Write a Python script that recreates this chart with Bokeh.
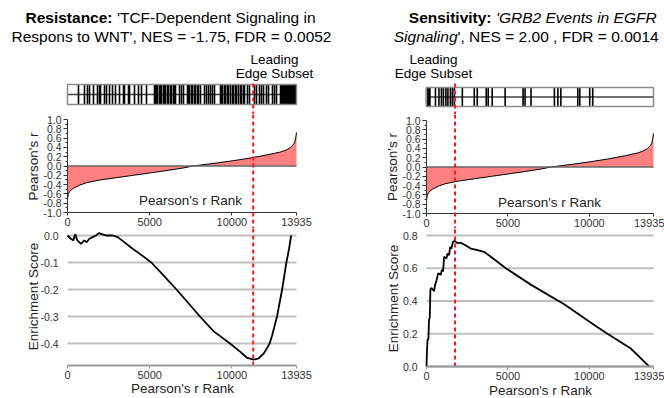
import math
from bokeh.plotting import figure
from bokeh.layouts import row, column
from bokeh.models import Range1d, FixedTicker, PrintfTickFormatter, Span, Label, LinearAxis
from bokeh.embed import file_html
from bokeh.resources import INLINE

FONT = "Liberation Sans"

# ---------------- data ----------------
rank_max = 13935
rank_ticks = [0, 5000, 10000, 13935]
pr_ticks = [-1.0, -0.8, -0.6, -0.4, -0.2, 0.0, 0.2, 0.4, 0.6, 0.8, 1.0]
pr_minor = [-0.9, -0.7, -0.5, -0.3, -0.1, 0.1, 0.3, 0.5, 0.7, 0.9]
esL_ticks = [-0.4, -0.3, -0.2, -0.1, 0.0]
esR_ticks = [0.0, 0.2, 0.4, 0.6, 0.8]

# ranked Pearson's r curve
pr_rank = [0, 40, 120, 350, 750, 1150, 2000, 3000, 4000, 5000, 6000, 7000, 7650,
           8300, 9100, 10100, 11100, 12150, 12950, 13350, 13570, 13720, 13810, 13880, 13935]
pr_r = [-0.72, -0.62, -0.55, -0.48, -0.41, -0.36, -0.30, -0.25, -0.20, -0.15, -0.10, -0.045, 0.0,
        0.03, 0.065, 0.115, 0.17, 0.24, 0.30, 0.35, 0.40, 0.45, 0.50, 0.58, 0.72]

# gene-set hit positions (rank)
hits_L = [669, 1034, 1217, 1339, 1582, 1826, 1947, 2008, 2251, 2373, 2556, 2738, 2921, 3164,
          3408, 3468, 3712, 3773, 4077, 4320, 4503, 4807,
          5294, 5355, 5416, 5477, 5598, 5659, 5720, 5842, 5902, 5963, 6085, 6146, 6268, 6328,
          6450, 6511, 6572, 6815, 6937, 7059,
          7302, 7363, 7424, 7545, 7606, 7728, 7789, 7911, 7971, 8093,
          8336, 8458, 8580, 8702, 8823, 8945,
          9310, 9371, 9432, 9553, 9614, 9736, 9797, 9919, 10040, 10101, 10223, 10284, 10405,
          10527, 10588, 10710, 10770, 10953, 11075, 11379, 11501, 11683, 11805, 11927,
          12109, 12231, 12474, 12596, 12718,
          12961, 13022, 13083, 13144, 13204, 13265, 13326, 13387, 13448, 13509, 13570, 13630,
          13691, 13752, 13813, 13874]
hits_R = [5, 40, 90, 150, 210, 550, 764, 917, 1039, 1191, 1314, 1466, 1589, 1711, 2200,
          2933, 3116, 3666, 3788, 4033, 4827, 5927, 6049, 6416, 7851, 8065, 8249, 9287,
          9409, 10020, 10204]

# running enrichment scores
esL_rank = [0, 200, 350, 470, 600, 820, 1020, 1160, 1330, 1530, 1730, 1900, 2140, 2350, 2750,
            3060, 3570, 3980, 4400, 5100, 5800, 6630, 7350, 8060, 8900, 9890, 10500, 10900,
            11320, 11630, 11940, 12140, 12300, 12450, 12750, 13060, 13320, 13480, 13610]
esL = [0.0, -0.012, -0.018, 0.005, -0.018, -0.031, -0.018, -0.025, -0.012, -0.006, 0.0, 0.009,
       0.004, 0.0, 0.0, -0.006, -0.03, -0.05, -0.068, -0.1, -0.145, -0.2, -0.25, -0.3, -0.355,
       -0.4, -0.43, -0.452, -0.46, -0.455, -0.437, -0.418, -0.40, -0.37, -0.30, -0.20, -0.10,
       -0.05, 0.0]
esR_rank = [0, 30, 60, 120, 150, 200, 240, 300, 470, 530, 600, 720, 880, 940, 1020, 1080, 1230,
            1290, 1390, 1450, 1530, 1620, 1740, 1860, 2110, 2310, 2720, 3130, 3540, 3950, 4870,
            6400, 8450, 10500, 11110, 12540, 13570, 13680]
esR = [0.0, 0.10, 0.16, 0.17, 0.28, 0.30, 0.47, 0.48, 0.46, 0.50, 0.52, 0.57, 0.56, 0.59, 0.58,
       0.67, 0.66, 0.69, 0.68, 0.73, 0.72, 0.76, 0.768, 0.755, 0.755, 0.745, 0.72, 0.71, 0.70,
       0.67, 0.60, 0.50, 0.38, 0.24, 0.20, 0.11, 0.01, 0.0]

leading_edge_L = 11300
leading_edge_R = 1750

RED = "#FF1A1A"
TXT = "#222222"
W = 332
BASE_SHIFT = 5  # alphabetic-baseline labels render slightly low; lift them


def add_label(p, text, x, y, size, style="normal", align="left", units="screen",
              baseline="alphabetic", angle=0.0, color="black"):
    p.add_layout(Label(x=x, y=y, x_units=units, y_units=units, text=text,
                       text_font=FONT, text_font_size=size, text_font_style=style,
                       text_align=align, text_baseline=baseline, text_color=color,
                       angle=angle))


def style_ticks(ax, size="11px", color="#333333"):
    ax.major_label_text_font = FONT
    ax.major_label_text_font_size = size
    ax.major_label_text_color = color


def yrange(top, height, v1, p1, v2, p2):
    """y range for a frame [top, top+height] in which value v1 sits on pixel row p1
    and value v2 on pixel row p2."""
    ppu = (p2 - p1) / (v1 - v2)
    end = v1 + (p1 - top) / ppu
    return end - height / ppu, end


def fig(height, xr, yr):
    p = figure(width=W, height=height, x_range=Range1d(*xr), y_range=Range1d(*yr),
               x_axis_location=None, y_axis_location=None, toolbar_location=None,
               output_backend="svg", min_border=0, outline_line_color=None)
    p.xgrid.visible = False
    p.ygrid.visible = False
    return p


def panel(cfg):
    ml, mr, gx0 = cfg["ml"], cfg["mr"], cfg["gx0"]
    le = cfg["le"]
    hits = cfg["hits"]
    scale = rank_max / (W - ml - mr)          # ranks per pixel
    xr = (-ml * scale, (W - ml) * scale)      # whole-canvas x range

    # ---- titles + barcode ----
    b0, b1 = cfg["box_px"]
    yA = yrange(0, 114, 1.0, b0, 0.0, b1)
    pa = fig(114, xr, yA)
    pa.quad(left=0, right=rank_max, bottom=0, top=1, fill_color="white", line_color=None)
    pa.segment(x0=0, y0=0.5, x1=rank_max, y1=0.5, line_color="#444444", line_width=1.3)
    pa.segment(x0=hits, y0=[0] * len(hits), x1=hits, y1=[1] * len(hits),
               line_color="black", line_width=1.6)
    pa.quad(left=0, right=rank_max, bottom=0, top=1, fill_color=None,
            line_color="#8c8c8c", line_width=1.5)
    red_top = 1.0 + (b0 - cfg["red_top_px"]) / (b1 - b0)
    pa.segment(x0=le, y0=red_top, x1=le, y1=yA[0],
               line_color=RED, line_width=2, line_dash="4 3")
    for (text, gx, gy, size, fstyle, align) in cfg["texts"]:
        add_label(pa, text, gx - gx0, 114 - gy + BASE_SHIFT, size, fstyle, align)

    # ---- ranked Pearson's r ----
    p1, p2 = cfg["pr_px"]
    pb = fig(114, xr, yrange(114, 114, 1.0, p1, -1.0, p2))
    pb.varea(x=pr_rank, y1=[0] * len(pr_rank), y2=pr_r, fill_color="#FF8080")
    pb.line(pr_rank, pr_r, line_color="black", line_width=1)
    pb.segment(x0=0, y0=0, x1=rank_max, y1=0, line_color="#666666", line_width=1.5)
    ya = LinearAxis(fixed_location=0, ticker=FixedTicker(ticks=pr_ticks, minor_ticks=pr_minor),
                    formatter=PrintfTickFormatter(format="%.1f"), bounds=(-1, 1))
    ya.axis_line_color = "#333333"
    ya.major_tick_line_color = "#333333"
    ya.minor_tick_line_color = "#333333"
    ya.major_tick_out = 4
    ya.major_tick_in = 0
    ya.minor_tick_out = 2
    ya.minor_tick_in = 0
    ya.major_label_standoff = 2
    style_ticks(ya, "10.5px")
    pb.add_layout(ya, "left")
    xa = LinearAxis(fixed_location=-1.0, ticker=FixedTicker(ticks=rank_ticks),
                    formatter=PrintfTickFormatter(format="%d"), bounds=(0, rank_max))
    xa.axis_line_color = "#333333"
    xa.major_tick_line_color = "#333333"
    xa.major_tick_out = 3
    xa.major_tick_in = 0
    xa.minor_tick_line_color = None
    xa.major_label_standoff = 2
    style_ticks(xa)
    pb.add_layout(xa, "below")
    gx, gy = cfg["prY"]
    add_label(pb, "Pearson's r", gx - gx0, 228 - gy, "13.5px", align="center",
              baseline="middle", angle=math.pi / 2, color=TXT)
    gx, gy = cfg["prX"]
    add_label(pb, "Pearson's r Rank", gx - gx0, 228 - gy + BASE_SHIFT, "13.5px",
              align="center", color=TXT)
    pb.add_layout(Span(location=le, dimension="height", line_color=RED, line_width=2,
                       line_dash="4 3"))

    # ---- running enrichment score ----
    (v1, r1), (v2, r2) = cfg["es_px"]
    yC = yrange(228, 170, v1, r1, v2, r2)
    es_axis = v1 - (cfg["es_axis_px"] - r1) * (v1 - v2) / (r2 - r1)
    pc = fig(170, xr, yC)
    ticks = cfg["es_ticks"]
    pc.segment(x0=[0] * len(ticks), y0=ticks, x1=[rank_max] * len(ticks), y1=ticks,
               line_color="#BFBFBF", line_width=2)
    pc.line(cfg["es_rank"], cfg["es"], line_color="black", line_width=1.8)
    pc.segment(x0=le, y0=es_axis, x1=le, y1=yC[1], line_color=RED, line_width=2,
               line_dash="4 3")
    ya2 = LinearAxis(fixed_location=0, ticker=FixedTicker(ticks=ticks),
                     formatter=PrintfTickFormatter(format="%.1f"))
    ya2.axis_line_color = None
    ya2.major_tick_line_color = None
    ya2.minor_tick_line_color = None
    ya2.major_label_standoff = 3
    style_ticks(ya2, "10.5px")
    pc.add_layout(ya2, "left")
    xa2 = LinearAxis(fixed_location=es_axis, ticker=FixedTicker(ticks=rank_ticks),
                     formatter=PrintfTickFormatter(format="%d"), bounds=(0, rank_max))
    xa2.axis_line_color = "#999999"
    xa2.axis_line_width = 2
    xa2.major_tick_line_color = "#999999"
    xa2.major_tick_out = 3
    xa2.major_tick_in = 0
    xa2.minor_tick_line_color = None
    xa2.major_label_standoff = 2
    style_ticks(xa2)
    pc.add_layout(xa2, "below")
    gx, gy = cfg["esY"]
    add_label(pc, "Enrichment Score", gx - gx0, 398 - gy, "13.5px", align="center",
              baseline="middle", angle=math.pi / 2, color=TXT)
    gx, gy = cfg["esX"]
    add_label(pc, "Pearson's r Rank", gx - gx0, 398 - gy, "13.5px", align="center",
              baseline="middle", color=TXT)

    return column(pa, pb, pc, spacing=0)


cfg_L = dict(
    ml=67, mr=36, gx0=0, le=leading_edge_L, hits=hits_L,
    box_px=(84, 104), red_top_px=83,
    pr_px=(119, 212), prY=(33, 166), prX=(190, 205),
    es_px=((0.0, 235), (-0.4, 343)), es_axis_px=365, es_ticks=esL_ticks,
    es_rank=esL_rank, es=esL, esY=(33, 296), esX=(182, 388),
    texts=[
        ("Resistance:", 112, 21.7, "15.5px", "bold", "right"),
        ("'TCF-Dependent Signaling in", 116.5, 21.7, "15.5px", "normal", "left"),
        ("Respons to WNT', NES = -1.75, FDR = 0.0052", 171, 40.7, "15.5px", "normal", "center"),
        ("Leading", 274, 64, "13.5px", "normal", "center"),
        ("Edge Subset", 274, 78.3, "13.5px", "normal", "center"),
    ],
)
cfg_R = dict(
    ml=94, mr=11, gx0=332, le=leading_edge_R, hits=hits_R,
    box_px=(87, 106), red_top_px=83,
    pr_px=(120, 213), prY=(392, 166.5), prX=(549, 206.5),
    es_px=((0.8, 235), (0.0, 366)), es_axis_px=366, es_ticks=esR_ticks,
    es_rank=esR_rank, es=esR, esY=(393, 298), esX=(540, 390),
    texts=[
        ("Sensitivity:", 491, 21.7, "15.5px", "bold", "right"),
        ("'GRB2 Events in EGFR", 495.5, 21.7, "15.5px", "italic", "left"),
        ("Signaling", 457, 40.5, "15.5px", "italic", "right"),
        ("', NES = 2.00 , FDR = 0.0014", 457, 40.5, "15.5px", "normal", "left"),
        ("Leading", 433, 64, "13.5px", "normal", "center"),
        ("Edge Subset", 433, 78.3, "13.5px", "normal", "center"),
    ],
)

layout = row(panel(cfg_L), panel(cfg_R), spacing=0)
open("out.html", "w").write(file_html(layout, INLINE))
